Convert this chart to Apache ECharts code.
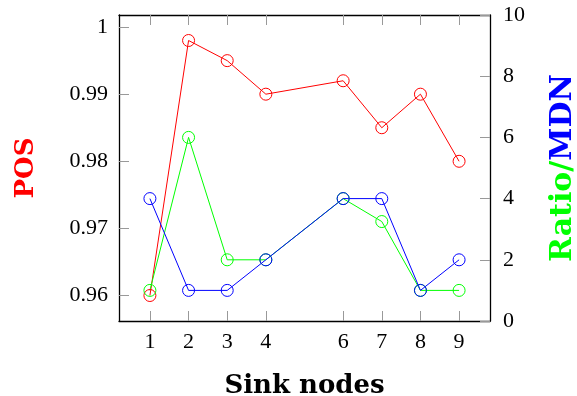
<!DOCTYPE html>
<html>
<head>
<meta charset="utf-8">
<script src="https://cdn.jsdelivr.net/npm/echarts@6/dist/echarts.min.js"></script>
<style>
  html, body { margin: 0; padding: 0; background: #fff; }
  #chart { width: 577px; height: 396px; }
</style>
</head>
<body>
<div id="chart"></div>
<script>
// 数据
const sinkNodes = [1, 2, 3, 4, 6, 7, 8, 9];
const posValues = [0.960, 0.998, 0.995, 0.990, 0.992, 0.985, 0.990, 0.980];
const ratioValues = [1, 6, 2, 2, 4, 3.25, 1, 1];
const mdnValues = [4, 1, 1, 2, 4, 4, 1, 2];
const posTicks = [0.96, 0.97, 0.98, 0.99, 1];

const pair = (xs, ys) => xs.map((x, i) => [x, ys[i]]);

const tickFont = { fontFamily: 'Liberation Serif', fontSize: 22, color: '#000' };
const tickStyle = { show: true, inside: true, length: 10, lineStyle: { color: '#999', width: 1 } };
const frame = { show: true, lineStyle: { color: '#000', width: 1.3 } };

// 折线 + 空心圆点
const makeLine = (name, axis, ys, color) => ({
  name: name,
  type: 'line',
  yAxisIndex: axis,
  data: pair(sinkNodes, ys),
  symbol: 'circle',
  symbolSize: 12,
  lineStyle: { color: color, width: 1 },
  itemStyle: { color: 'rgba(0,0,0,0)', borderColor: color, borderWidth: 1 }
});

const chart = echarts.init(document.getElementById('chart'));
chart.setOption({
  animation: false,
  grid: { left: 119, right: 87, top: 15, bottom: 75, outerBoundsMode: 'none', containLabel: false },
  xAxis: [
    {
      type: 'value',
      min: 0.2,
      max: 9.8,
      name: 'Sink nodes',
      nameLocation: 'middle',
      nameGap: 52,
      nameTextStyle: { fontFamily: 'DejaVu Serif', fontWeight: 'bold', fontSize: 26, color: '#000' },
      axisLine: frame,
      axisTick: Object.assign({ customValues: sinkNodes }, tickStyle),
      axisLabel: Object.assign({ customValues: sinkNodes, margin: 10 }, tickFont),
      splitLine: { show: false }
    },
    {
      type: 'value',
      position: 'top',
      min: 0.2,
      max: 9.8,
      axisLine: frame,
      axisTick: Object.assign({ customValues: sinkNodes }, tickStyle),
      axisLabel: { show: false },
      splitLine: { show: false }
    }
  ],
  yAxis: [
    {
      type: 'value',
      min: 0.9562,
      max: 1.0018,
      name: 'POS',
      nameLocation: 'middle',
      nameRotate: 90,
      nameGap: 80,
      nameTextStyle: { fontFamily: 'DejaVu Serif', fontWeight: 'bold', fontSize: 26, color: '#ff0000' },
      axisLine: frame,
      axisTick: Object.assign({ customValues: posTicks }, tickStyle),
      axisLabel: Object.assign({ customValues: posTicks, margin: 11 }, tickFont),
      splitLine: { show: false }
    },
    {
      type: 'value',
      min: 0,
      max: 10,
      interval: 2,
      position: 'right',
      name: '{g|Ratio/}{b|MDN}',
      nameLocation: 'middle',
      nameRotate: 90,
      nameGap: 58,
      nameTextStyle: {
        fontFamily: 'DejaVu Serif',
        fontWeight: 'bold',
        fontSize: 30,
        rich: {
          g: { fontFamily: 'DejaVu Serif', fontWeight: 'bold', fontSize: 30, color: '#00ff00' },
          b: { fontFamily: 'DejaVu Serif', fontWeight: 'bold', fontSize: 30, color: '#0000ff' }
        }
      },
      axisLine: frame,
      axisTick: tickStyle,
      axisLabel: Object.assign({ margin: 13 }, tickFont),
      splitLine: { show: false }
    }
  ],
  series: [
    makeLine('POS', 0, posValues, '#ff0000'),
    makeLine('Ratio', 1, ratioValues, '#00ff00'),
    makeLine('MDN', 1, mdnValues, '#0000ff')
  ]
});
</script>
</body>
</html>
